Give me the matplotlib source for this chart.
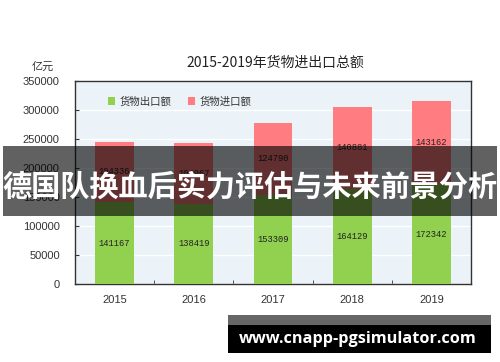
import matplotlib
matplotlib.use("Agg")
import matplotlib.pyplot as plt
from matplotlib.patches import Rectangle
from matplotlib.ticker import MultipleLocator, FixedLocator

plt.rcParams['font.family'] = ['Noto Sans CJK SC', 'DejaVu Sans']

years = ["2015", "2016", "2017", "2018", "2019"]
exports = [141167, 138419, 153309, 164129, 172342]
imports = [104336, 104967, 124790, 140881, 143162]
title = "2015-2019年货物进出口总额"
unit = "亿元"
legend_labels = ["货物出口额", "货物进口额"]
banner = "德国队换血后实力评估与未来前景分析"
watermark = "www.cnapp-pgsimulator.com"

W, H = 500, 362
fig = plt.figure(figsize=(W / 100, H / 100), dpi=100)
fig.patch.set_facecolor("white")

ax = fig.add_axes([75 / W, 1 - 284 / H, (471 - 75) / W, (284 - 81) / H])
ax.set_facecolor("#EBF3F8")

x = list(range(len(years)))
green = "#92D050"
red = "#FF7C80"
ax.bar(x, exports, width=0.49, color=green, zorder=3, label=legend_labels[0])
ax.bar(x, imports, width=0.49, bottom=exports, color=red, zorder=3, label=legend_labels[1])

for xi, e, im in zip(x, exports, imports):
    ax.text(xi, e / 2, str(e), ha="center", va="center", fontsize=6.3,
            family="Liberation Mono", color="#222222", zorder=4)
    ax.text(xi, e + im / 2, str(im), ha="center", va="center", fontsize=6.3,
            family="Liberation Mono", color="#222222", zorder=4)

ax.set_xlim(-0.5, 4.5)
ax.set_ylim(0, 350000)
ax.yaxis.set_major_locator(MultipleLocator(50000))
ax.grid(axis="y", color="white", linewidth=1, zorder=1)
ax.set_axisbelow(True)
ax.set_xticks(x)
ax.set_xticklabels(years, family="Liberation Sans", fontsize=8, color="#333333")
ax.xaxis.set_minor_locator(FixedLocator([0.5, 1.5, 2.5, 3.5]))
ax.tick_params(axis="x", which="major", length=0, pad=8)
ax.tick_params(axis="x", which="minor", direction="in", length=3, color="#333333")
ax.tick_params(axis="y", direction="in", length=3, pad=11, labelsize=8, color="#333333", labelcolor="#333333")
for lbl in ax.get_yticklabels():
    lbl.set_family("Liberation Sans")
for s in ax.spines.values():
    s.set_color("#333333")
    s.set_linewidth(1)

ax.legend(loc="upper left", bbox_to_anchor=(0.06, 0.97), ncol=2, frameon=False,
          fontsize=7.5, handlelength=0.7, handleheight=0.7, handletextpad=0.4,
          columnspacing=1.6, labelcolor="#333333")

fig.text(275 / W, 1 - 63 / H, title, ha="center", va="center", fontsize=10, color="#222222")
fig.text(43 / W, 1 - 67 / H, unit, ha="center", va="center", fontsize=8, color="#333333")

# banner overlay
fig.patches.append(Rectangle((3 / W, 1 - 216 / H), 494 / W, 70 / H, transform=fig.transFigure,
                             facecolor="black", alpha=0.62, edgecolor="none", zorder=10))
fig.text(250 / W, 1 - 187 / H, banner, ha="center", va="center", fontsize=21,
         fontweight="bold", color="white", zorder=11)

# watermark
fig.patches.append(Rectangle((228 / W, 1 - 325 / H), 263 / W, 10 / H, transform=fig.transFigure,
                             facecolor="#666666", edgecolor="none", zorder=10))
fig.patches.append(Rectangle((228 / W, 1 - 353 / H), 263 / W, 28 / H, transform=fig.transFigure,
                             facecolor="black", edgecolor="none", zorder=10))
fig.text(358 / W, 1 - 339 / H, watermark, ha="center", va="center", fontsize=11.7,
         fontweight="bold", family="Open Sans", color="white", zorder=11)

fig.savefig("out.png", dpi=100)
